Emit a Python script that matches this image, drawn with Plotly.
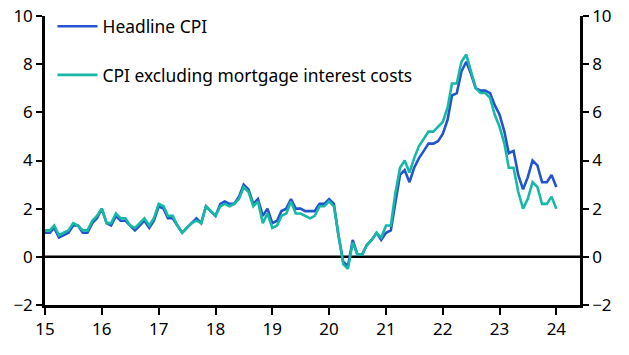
import pandas as pd
import plotly.graph_objects as go

dates = pd.date_range("2015-01-01", "2024-01-01", freq="MS")

headline_cpi = [
    1.0, 1.0, 1.2, 0.8, 0.9, 1.0, 1.3, 1.3, 1.0, 1.0, 1.4, 1.6,   # 2015
    2.0, 1.4, 1.3, 1.7, 1.5, 1.5, 1.3, 1.1, 1.3, 1.5, 1.2, 1.5,   # 2016
    2.1, 2.0, 1.6, 1.6, 1.3, 1.0, 1.2, 1.4, 1.6, 1.4, 2.1, 1.9,   # 2017
    1.7, 2.2, 2.3, 2.2, 2.2, 2.5, 3.0, 2.8, 2.2, 2.4, 1.7, 2.0,   # 2018
    1.4, 1.5, 1.9, 2.0, 2.4, 2.0, 2.0, 1.9, 1.9, 1.9, 2.2, 2.2,   # 2019
    2.4, 2.2, 0.9, -0.2, -0.4, 0.7, 0.1, 0.1, 0.5, 0.7, 1.0, 0.7, # 2020
    1.0, 1.1, 2.2, 3.4, 3.6, 3.1, 3.7, 4.1, 4.4, 4.7, 4.7, 4.8,   # 2021
    5.1, 5.7, 6.7, 6.8, 7.7, 8.1, 7.6, 7.0, 6.9, 6.9, 6.8, 6.3,   # 2022
    5.9, 5.2, 4.3, 4.4, 3.4, 2.8, 3.3, 4.0, 3.8, 3.1, 3.1, 3.4,   # 2023
    2.9,                                                          # 2024
]

cpi_ex_mortgage = [
    1.1, 1.1, 1.3, 0.9, 1.0, 1.1, 1.4, 1.3, 1.1, 1.1, 1.5, 1.7,   # 2015
    2.0, 1.4, 1.4, 1.8, 1.6, 1.6, 1.3, 1.2, 1.4, 1.6, 1.3, 1.6,   # 2016
    2.2, 2.1, 1.7, 1.7, 1.3, 1.0, 1.2, 1.4, 1.5, 1.4, 2.1, 1.9,   # 2017
    1.7, 2.1, 2.2, 2.1, 2.2, 2.4, 2.9, 2.7, 2.1, 2.3, 1.4, 1.8,   # 2018
    1.2, 1.3, 1.7, 1.8, 2.3, 1.8, 1.8, 1.7, 1.6, 1.7, 2.1, 2.1,   # 2019
    2.3, 2.1, 0.9, -0.3, -0.5, 0.6, 0.1, 0.1, 0.5, 0.7, 1.0, 0.8, # 2020
    1.3, 1.3, 2.6, 3.7, 4.0, 3.5, 4.1, 4.6, 4.9, 5.2, 5.2, 5.4,   # 2021
    5.6, 6.2, 7.2, 7.2, 8.1, 8.4, 7.7, 7.0, 6.8, 6.8, 6.6, 5.9,   # 2022
    5.4, 4.7, 3.7, 3.7, 2.7, 2.0, 2.4, 3.1, 2.9, 2.2, 2.2, 2.5,   # 2023
    2.0,                                                          # 2024
]

series_names = ["Headline CPI", "CPI excluding mortgage interest costs"]
series_colors = ["#2453cf", "#17b9a6"]
series_axes = ["y", "y2"]
y_ticks = [-2, 0, 2, 4, 6, 8, 10]

font_family = "Noto Sans, Lato, sans-serif"
FS = 17

fig = go.Figure()
for i, (name, vals, col, ax) in enumerate(zip(series_names, [headline_cpi, cpi_ex_mortgage],
                                                series_colors, series_axes)):
    fig.add_trace(go.Scatter(
        x=dates, y=vals, mode="lines", name=name, yaxis=ax,
        line=dict(color=col, width=2.6), legendgroup=f"g{i}",
    ))

axis_common = dict(
    range=[-2, 10], tickvals=y_ticks, showgrid=False, zeroline=False,
    showline=True, linecolor="black", linewidth=2.5,
    ticks="outside", ticklen=6, tickwidth=2, tickcolor="black",
    ticklabeloverflow="allow",
    tickfont=dict(size=FS, color="black", family=font_family),
)

fig.update_layout(
    width=629, height=355,
    margin=dict(l=45, r=49, t=16, b=50, autoexpand=False),
    plot_bgcolor="white", paper_bgcolor="white",
    font=dict(family=font_family, size=FS, color="black"),
    showlegend=True,
    legend=dict(
        x=0.014, y=1.026, xanchor="left", yanchor="top",
        bgcolor="rgba(0,0,0,0)", font=dict(size=17.4, color="black"),
        traceorder="grouped", tracegroupgap=23, itemwidth=40,
    ),
    xaxis=dict(
        type="date", range=["2015-01-01", "2024-06-01"],
        tick0="2015-01-01", dtick="M12", tickformat="%y",
        showgrid=False, zeroline=False,
        showline=True, linecolor="black", linewidth=2.5,
        ticks="outside", ticklen=7, tickwidth=2, tickcolor="black",
        ticklabeloverflow="allow",
        tickfont=dict(size=FS, color="black", family=font_family),
    ),
    yaxis=dict(**axis_common, side="left"),
    yaxis2=dict(**axis_common, side="right", overlaying="y", anchor="x"),
    shapes=[dict(type="line", xref="paper", x0=0, x1=1, yref="y", y0=0, y1=0,
                 line=dict(color="black", width=2.5), layer="below")],
)

fig.write_html("out.html", config={"displayModeBar": False},
               post_script="document.body.style.margin='0';")
